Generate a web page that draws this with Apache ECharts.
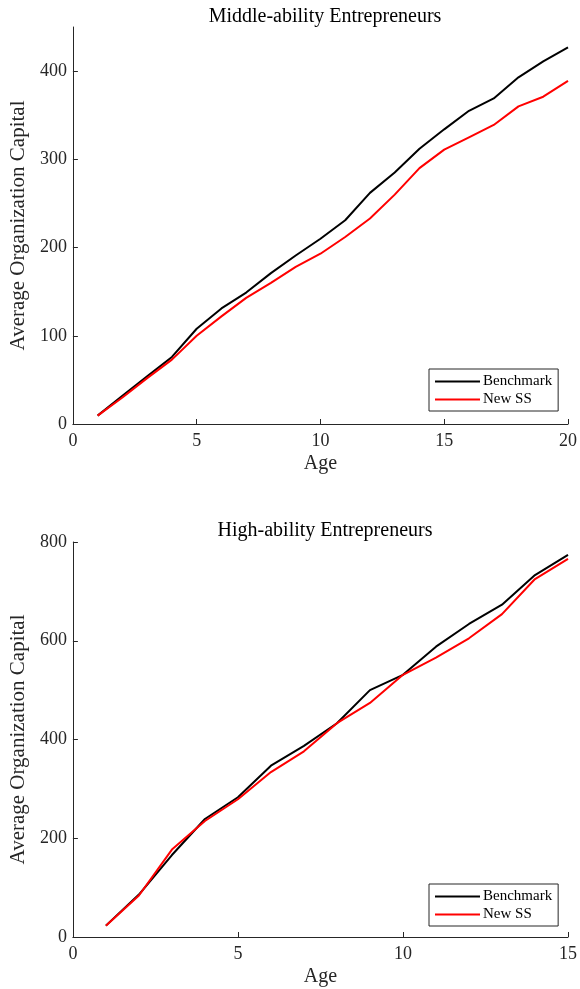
<!DOCTYPE html>
<html>
<head>
<meta charset="utf-8">
<script src="https://cdn.jsdelivr.net/npm/echarts@6/dist/echarts.min.js"></script>
<style>
html,body{margin:0;padding:0;background:#fff;}
#c{width:580px;height:989px;}
</style>
</head>
<body>
<div id="c"></div>
<script>
// Middle-ability entrepreneurs
var agesMid = [1,2,3,4,5,6,7,8,9,10,11,12,13,14,15,16,17,18,19,20];
var benchMid = [9.5,32,54,76,108,131,149,171,191,210,231,262,285,312,334,355,369,393,411,427];
var newMid   = [9.5,30,52,73,100,122,143,160,178,193,212,233,260,290,311,325,339,360,371,389];
// High-ability entrepreneurs
var agesHigh = [1,2,3,4,5,6,7,8,9,10,11,12,13,14,15];
var benchHigh = [23,86,166,239,283,347,387,433,500,531,588,634,673,733,774];
var newHigh   = [23,84,177,235,279,334,376,433,474,531,566,605,654,725,766];
var seriesNames = ['Benchmark','New SS'];
var titles = ['Middle-ability Entrepreneurs','High-ability Entrepreneurs'];
var xLabel = 'Age';
var yLabel = 'Average Organization Capital';

function pairs(xs, ys){ return xs.map(function(x,i){ return [x, ys[i]]; }); }

var FONT = 'Liberation Serif';
var AX = '#262626';

function xAxis(gi, max){
  return {
    type:'value', gridIndex:gi, min:0, max:max, interval:5,
    name:xLabel, nameLocation:'middle', nameGap:30,
    nameTextStyle:{fontFamily:FONT, fontSize:20, color:AX},
    axisLine:{show:true, onZero:false, lineStyle:{color:AX, width:1}},
    axisTick:{show:true, inside:true, length:5, lineStyle:{color:AX}},
    axisLabel:{fontFamily:FONT, fontSize:18, color:AX, margin:8},
    splitLine:{show:false}
  };
}
function yAxis(gi, max, interval, ticks){
  return {
    type:'value', gridIndex:gi, min:0, max:max, interval:interval,
    name:yLabel, nameLocation:'middle', nameGap:27,
    nameTextStyle:{fontFamily:FONT, fontSize:21, color:AX},
    axisLine:{show:true, onZero:false, lineStyle:{color:AX, width:1}},
    axisTick:{show:true, inside:true, length:5, lineStyle:{color:AX}, customValues:ticks},
    axisLabel:{fontFamily:FONT, fontSize:18, color:AX, margin:6, customValues:ticks},
    splitLine:{show:false}
  };
}
function legend(top){
  return {
    orient:'vertical', left:429, top:top, data:seriesNames,
    icon:'rect', itemWidth:45, itemHeight:2, itemGap:3,
    padding:[5,6,4,6], borderColor:AX, borderWidth:1, backgroundColor:'#fff',
    textStyle:{fontFamily:FONT, fontSize:15, color:'#000', padding:[0,0,0,-2]},
    selectedMode:false
  };
}
function line(name, gi, data, color){
  return {
    type:'line', name:name, xAxisIndex:gi, yAxisIndex:gi, data:data,
    symbol:'none', showSymbol:false, animation:false,
    lineStyle:{color:color, width:2}, itemStyle:{color:color}
  };
}

var chart = echarts.init(document.getElementById('c'), null, {renderer:'canvas'});
chart.setOption({
  animation:false,
  backgroundColor:'#fff',
  title:[
    {text:titles[0], left:320, top:2, textAlign:'center',
     textStyle:{fontFamily:FONT, fontSize:20, fontWeight:'normal', color:'#000'}},
    {text:titles[1], left:320, top:516, textAlign:'center',
     textStyle:{fontFamily:FONT, fontSize:20, fontWeight:'normal', color:'#000'}}
  ],
  grid:[
    {left:69, right:9, top:27, height:397},
    {left:69, right:9, top:542, height:395}
  ],
  xAxis:[xAxis(0,20), xAxis(1,15)],
  yAxis:[yAxis(0,450,100,[0,100,200,300,400]), yAxis(1,800,200,[0,200,400,600,800])],
  legend:[legend(369), legend(884)],
  series:[
    line(seriesNames[0],0,pairs(agesMid,benchMid),'#000000'),
    line(seriesNames[1],0,pairs(agesMid,newMid),'#ff0000'),
    line(seriesNames[0],1,pairs(agesHigh,benchHigh),'#000000'),
    line(seriesNames[1],1,pairs(agesHigh,newHigh),'#ff0000')
  ]
});
</script>
</body>
</html>
